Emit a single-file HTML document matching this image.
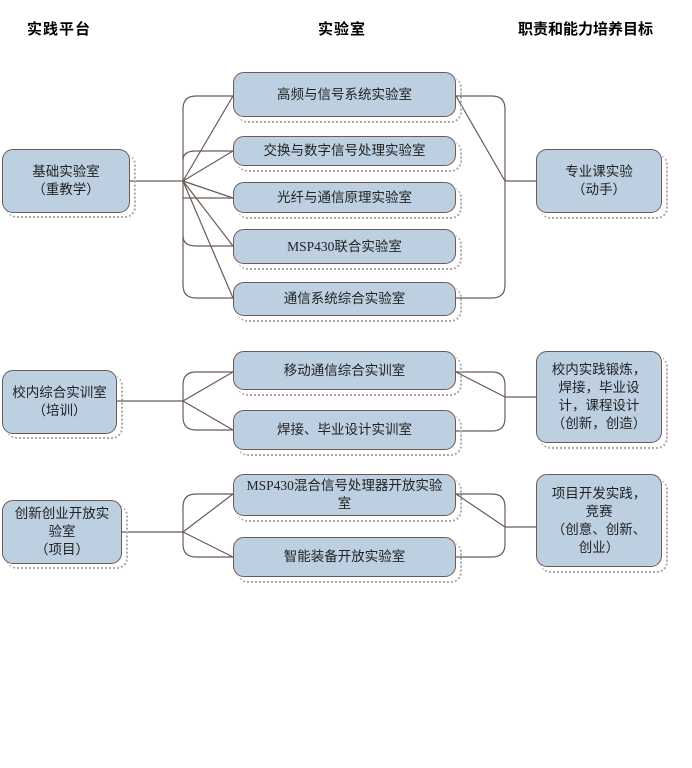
<!DOCTYPE html>
<html><head><meta charset="utf-8"><style>
body{margin:0;width:692px;height:768px;background:#fff;position:relative;font-family:"Liberation Serif","Noto Sans CJK SC",sans-serif;overflow:hidden}
.b{position:absolute;box-sizing:border-box;border:1.3px solid #6b5a55;border-radius:11px;background:#bcd0e2;display:flex;align-items:center;justify-content:center;text-align:center;font-size:13.5px;line-height:18px;color:#222;z-index:2}
.s{position:absolute;box-sizing:border-box;border-right:2px dotted #aaa;border-bottom:2px dotted #aaa;border-radius:11px;z-index:1}
.h{position:absolute;font-weight:bold;font-size:15px;font-family:"Liberation Sans","Noto Sans CJK SC",sans-serif;top:18px}
svg{position:absolute;left:0;top:0;z-index:0}
</style></head><body>
<div class="h" style="left:27px;letter-spacing:1px">实践平台</div>
<div class="h" style="left:318px;letter-spacing:1px">实验室</div>
<div class="h" style="left:518px">职责和能力培养目标</div>
<svg width="692" height="768" fill="none" stroke="#6b5a55" stroke-width="1.2">
<path d="M130 181H183M196 96H233M196 298H233M183 109V285M183 109Q183 96 196 96M183 285Q183 298 196 298"/>
<path d="M183 160Q183 151 196 151H233M183 198H233M183 236Q183 246 196 246H233"/>
<path d="M183 181L233 96M183 181L233 151M183 181L233 198M183 181L233 246M183 181L233 298"/>
<path d="M456 96H492Q505 96 505 109V285Q505 298 492 298H456M505 181H536M456 96L505 181"/>
<path d="M117 401H183M196 372H233M196 430H233M183 385V417M183 385Q183 372 196 372M183 417Q183 430 196 430M183 401L233 372M183 401L233 430"/>
<path d="M456 372H492Q505 372 505 385V418Q505 431 492 431H456M505 397H536M456 372L505 397"/>
<path d="M122 532H183M196 494H233M196 557H233M183 507V544M183 507Q183 494 196 494M183 544Q183 557 196 557M183 532L233 494M183 532L233 557"/>
<path d="M456 494H492Q505 494 505 507V544Q505 557 492 557H456M505 527H536M456 494L505 527"/>
</svg>
<div class="s" style="left:6px;top:154px;width:130px;height:64px"></div>
<div class="b" style="left:2px;top:149px;width:128px;height:64px">基础实验室<br>（重教学）</div>
<div class="s" style="left:6px;top:375px;width:117px;height:64px"></div>
<div class="b" style="left:2px;top:370px;width:115px;height:64px">校内综合实训室<br>（培训）</div>
<div class="s" style="left:6px;top:505px;width:122px;height:64px"></div>
<div class="b" style="left:2px;top:500px;width:120px;height:64px">创新创业开放实<br>验室<br>（项目）</div>

<div class="s" style="left:237px;top:77px;width:225px;height:46px"></div>
<div class="b" style="left:233px;top:72px;width:223px;height:45px">高频与信号系统实验室</div>
<div class="s" style="left:237px;top:141px;width:225px;height:31px"></div>
<div class="b" style="left:233px;top:136px;width:223px;height:30px">交换与数字信号处理实验室</div>
<div class="s" style="left:237px;top:187px;width:225px;height:32px"></div>
<div class="b" style="left:233px;top:182px;width:223px;height:31px">光纤与通信原理实验室</div>
<div class="s" style="left:237px;top:234px;width:225px;height:36px"></div>
<div class="b" style="left:233px;top:229px;width:223px;height:35px">MSP430联合实验室</div>
<div class="s" style="left:237px;top:287px;width:225px;height:35px"></div>
<div class="b" style="left:233px;top:282px;width:223px;height:34px">通信系统综合实验室</div>
<div class="s" style="left:237px;top:356px;width:225px;height:40px"></div>
<div class="b" style="left:233px;top:351px;width:223px;height:39px">移动通信综合实训室</div>
<div class="s" style="left:237px;top:415px;width:225px;height:41px"></div>
<div class="b" style="left:233px;top:410px;width:223px;height:40px">焊接、毕业设计实训室</div>
<div class="s" style="left:237px;top:479px;width:225px;height:43px"></div>
<div class="b" style="left:233px;top:474px;width:223px;height:42px;align-items:flex-start;padding-top:2px">MSP430混合信号处理器开放实验<br>室</div>
<div class="s" style="left:237px;top:542px;width:225px;height:41px"></div>
<div class="b" style="left:233px;top:537px;width:223px;height:40px">智能装备开放实验室</div>

<div class="s" style="left:540px;top:154px;width:128px;height:65px"></div>
<div class="b" style="left:536px;top:149px;width:126px;height:64px">专业课实验<br>（动手）</div>
<div class="s" style="left:540px;top:356px;width:128px;height:93px"></div>
<div class="b" style="left:536px;top:351px;width:126px;height:92px">校内实践锻炼，<br>焊接，毕业设<br>计，课程设计<br>（创新，创造）</div>
<div class="s" style="left:540px;top:479px;width:128px;height:94px"></div>
<div class="b" style="left:536px;top:474px;width:126px;height:93px">项目开发实践，<br>竞赛<br>（创意、创新、<br>创业）</div>
</body></html>
